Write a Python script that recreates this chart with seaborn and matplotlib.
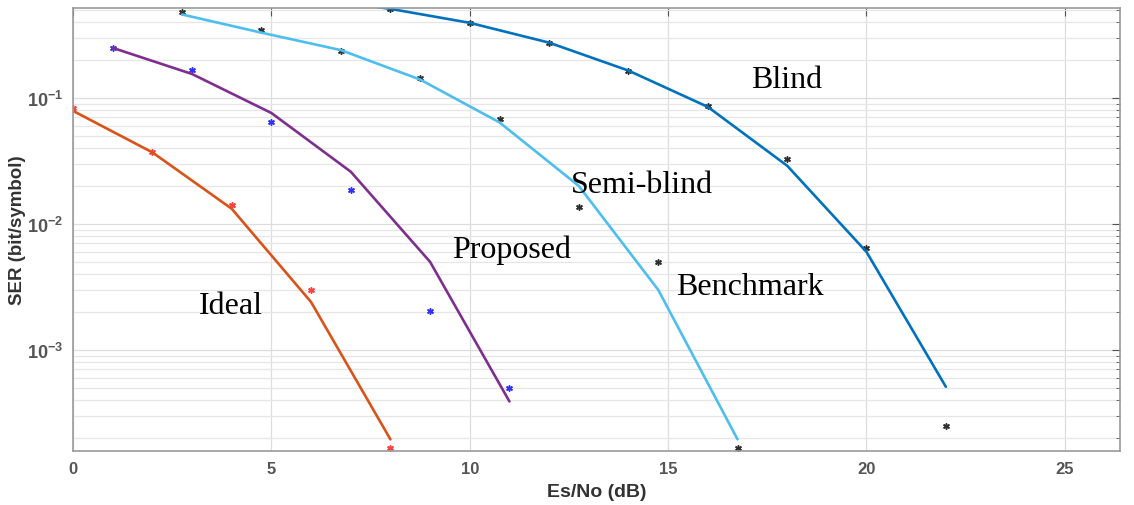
import numpy as np
import pandas as pd
import seaborn as sns
from matplotlib import pyplot as plt

# valores
x_ideal = [0, 2, 4, 6, 8]
ser_ideal_line = [0.079, 0.037, 0.0132, 0.0024, 1.95e-4]
ser_ideal_pts = [0.083, 0.037, 0.0142, 0.0030, 1.66e-4]

x_prop = [1, 3, 5, 7, 9, 11]
ser_prop_line = [0.25, 0.155, 0.076, 0.026, 0.0050, 3.9e-4]
ser_prop_pts = [0.25, 0.167, 0.064, 0.0186, 0.00204, 5.0e-4]

x_semi = [2.75, 4.75, 6.75, 8.75, 10.75, 12.75, 14.75, 16.75]
ser_semi_line = [0.46, 0.33, 0.24, 0.14, 0.064, 0.020, 0.0030, 1.95e-4]
ser_semi_pts = [0.48, 0.346, 0.235, 0.145, 0.068, 0.0136, 0.0050, 1.66e-4]

x_blind = [6, 8, 10, 12, 14, 16, 18, 20, 22]
ser_blind_line = [0.62, 0.51, 0.395, 0.275, 0.165, 0.085, 0.029, 0.006, 5.1e-4]
x_blind_pts = [8, 10, 12, 14, 16, 18, 20, 22]
ser_blind_pts = [0.51, 0.395, 0.275, 0.164, 0.086, 0.033, 0.0065, 2.5e-4]

etiquetas = ['Blind', 'Semi-blind', 'Proposed', 'Ideal', 'Benchmark']
etiq_x = [17.1, 12.55, 9.55, 3.17, 15.2]
etiq_y = [0.139, 0.0204, 0.0063, 0.00224, 0.0032]

sns.set_style('white')
plt.rcParams['font.family'] = ['Liberation Sans', 'DejaVu Sans']
plt.rcParams['mathtext.fontset'] = 'custom'
plt.rcParams['mathtext.bf'] = 'Liberation Sans:bold'
plt.rcParams['mathtext.rm'] = 'Liberation Sans'

fig = plt.figure(figsize=(11.34, 5.06), dpi=100)
ax = fig.add_axes([0.0644, 0.107, 0.9236, 0.875])

asterisco = (6, 2, 0)

# lineas
sns.lineplot(x=x_ideal, y=ser_ideal_line, color='#D95319', linewidth=1.9, ax=ax)
sns.lineplot(x=x_prop, y=ser_prop_line, color='#7E2F8E', linewidth=1.9, ax=ax)
sns.lineplot(x=x_semi, y=ser_semi_line, color='#4DBEEE', linewidth=1.9, ax=ax)
sns.lineplot(x=x_blind, y=ser_blind_line, color='#0072BD', linewidth=1.9, ax=ax)

# marcadores
sns.scatterplot(x=x_ideal, y=ser_ideal_pts, marker=asterisco, color='#FF4040', s=16, linewidth=1.1, ax=ax)
sns.scatterplot(x=x_prop, y=ser_prop_pts, marker=asterisco, color='#3030FF', s=16, linewidth=1.1, ax=ax)
sns.scatterplot(x=x_semi, y=ser_semi_pts, marker=asterisco, color='#303030', s=16, linewidth=1.1, ax=ax)
sns.scatterplot(x=x_blind_pts, y=ser_blind_pts, marker=asterisco, color='#303030', s=16, linewidth=1.1, ax=ax)

for t, xx, yy in zip(etiquetas, etiq_x, etiq_y):
    ax.text(xx, yy, t, fontsize=23, family='Liberation Serif', va='center', ha='left', color='black')

ax.set_yscale('log')
ax.set_xlim(0, 26.4)
ax.set_ylim(1.58e-4, 0.517)
ax.set_xticks([0, 5, 10, 15, 20, 25])
ax.set_xticklabels(['0', '5', '10', '15', '20', '25'], fontweight='bold', fontsize=12, color='#333333')
ax.set_yticks([1e-3, 1e-2, 1e-1])
ax.set_yticklabels([r'$\mathbf{10^{-3}}$', r'$\mathbf{10^{-2}}$', r'$\mathbf{10^{-1}}$'], fontsize=13, color='#333333')

ax.grid(True, which='major', color='#DDDDDD', linewidth=0.9)
ax.grid(True, which='minor', axis='y', color='#E6E6E6', linewidth=0.9)
ax.tick_params(which='both', direction='in', top=True, right=True, colors='#555555')
ax.tick_params(which='major', length=6, pad=7)
ax.tick_params(which='minor', length=3)
for s in ax.spines.values():
    s.set_color('#999999')
    s.set_linewidth(1.2)

ax.set_xlabel('Es/No (dB)', fontweight='bold', fontsize=14, color='#333333', labelpad=5)
ax.set_ylabel('SER (bit/symbol)', fontweight='bold', fontsize=13.5, color='#333333', labelpad=1)

plt.savefig('out.png', dpi=100)
plt.close()
